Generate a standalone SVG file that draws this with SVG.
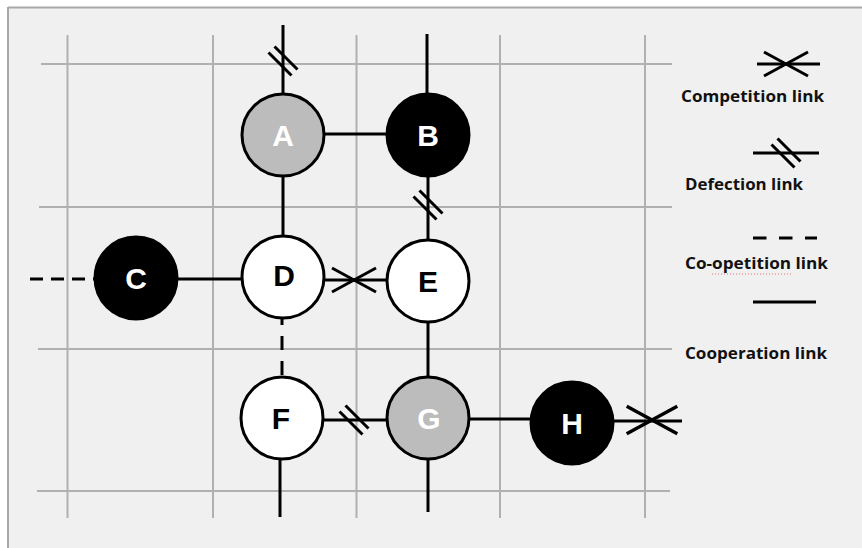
<svg xmlns="http://www.w3.org/2000/svg" xmlns:xlink="http://www.w3.org/1999/xlink" width="862" height="548" viewBox="0 0 862 548">
  <style>
    .grid { stroke: #b0b0b0; stroke-width: 2; fill: none; }
    .link { stroke: #000; stroke-width: 3; fill: none; }
    .dash { stroke: #000; stroke-width: 3; fill: none; stroke-dasharray: 14 11; }
    .node { stroke: #000; stroke-width: 3; }
    .white { fill: #ffffff; }
    .grey { fill: #bcbcbc; }
    .black { fill: #000000; }
    .lbl { font-family: "Liberation Sans", Arial, sans-serif; font-weight: bold; font-size: 30px; text-anchor: middle; }
    .lbl-dark { fill: #000; }
    .lbl-light { fill: #fff; }
    .legend { font-family: "Open Sans", "Liberation Sans", sans-serif; font-weight: bold; font-size: 16.5px; fill: #111; }
  </style>
  <defs>
    <!-- two parallel slashes across a link -->
    <g id="defect" class="link">
      <line x1="-14.5" y1="-8.5" x2="8.5" y2="14.5"/>
      <line x1="-8.5" y1="-14.5" x2="14.5" y2="8.5"/>
    </g>
    <!-- crossed strokes across a link -->
    <g id="compete" class="link">
      <line x1="-22" y1="-12" x2="22" y2="12"/>
      <line x1="-22" y1="12" x2="22" y2="-12"/>
    </g>
  </defs>

  <!-- canvas -->
  <rect x="0" y="0" width="862" height="548" fill="#ffffff"/>
  <rect x="8" y="7" width="854" height="541" fill="#f0f0f0"/>
  <line x1="8" y1="7.5" x2="862" y2="7.5" stroke="#a8a8a8" stroke-width="2"/>
  <line x1="8" y1="7" x2="8" y2="548" stroke="#a8a8a8" stroke-width="2"/>

  <!-- background grid -->
  <g id="grid" class="grid">
    <line x1="41" y1="64" x2="672" y2="64"/>
    <line x1="39" y1="207" x2="672" y2="207"/>
    <line x1="38" y1="349" x2="672" y2="349"/>
    <line x1="37" y1="491" x2="670" y2="491"/>
    <line x1="67.5" y1="35" x2="67.5" y2="518"/>
    <line x1="213" y1="35" x2="213" y2="518"/>
    <line x1="356.5" y1="35" x2="356.5" y2="518"/>
    <line x1="500" y1="35" x2="500" y2="518"/>
    <line x1="645" y1="35" x2="645" y2="518"/>
  </g>

  <!-- links between firms -->
  <g id="connectors">
    <line class="link" x1="283" y1="25" x2="283" y2="95"/>
    <use xlink:href="#defect" href="#defect" transform="translate(283,61)"/>
    <line class="link" x1="427" y1="34" x2="427" y2="95"/>
    <line class="link" x1="320" y1="134" x2="390" y2="134"/>
    <line class="link" x1="283" y1="175" x2="283" y2="238"/>
    <line class="link" x1="428" y1="175" x2="428" y2="242"/>
    <use xlink:href="#defect" href="#defect" transform="translate(428,205)"/>
    <line class="link" x1="30" y1="279" x2="94" y2="279" stroke-dasharray="13 8"/>
    <line class="link" x1="175" y1="279" x2="244" y2="279"/>
    <line class="link" x1="322" y1="280" x2="390" y2="280"/>
    <use xlink:href="#compete" href="#compete" transform="translate(354,280)"/>
    <line class="dash" x1="282" y1="319" x2="282" y2="377" stroke-dashoffset="8"/>
    <line class="link" x1="428" y1="320" x2="428" y2="380"/>
    <line class="link" x1="320" y1="420" x2="390" y2="420"/>
    <use xlink:href="#defect" href="#defect" transform="translate(354,420)"/>
    <line class="link" x1="466" y1="419" x2="534" y2="419"/>
    <line class="link" x1="610" y1="421" x2="682" y2="421"/>
    <use xlink:href="#compete" href="#compete" transform="translate(652,420) scale(1.15)"/>
    <line class="link" x1="280" y1="458" x2="280" y2="517"/>
    <line class="link" x1="428" y1="457" x2="428" y2="512"/>
  </g>

  <!-- firms -->
  <g id="node-A">
    <circle class="node grey" cx="283" cy="135" r="41"/>
    <text class="lbl lbl-light" x="283" y="146">A</text>
  </g>
  <g id="node-B">
    <circle class="node black" cx="428" cy="135" r="41"/>
    <text class="lbl lbl-light" x="428" y="146">B</text>
  </g>
  <g id="node-C">
    <circle class="node black" cx="136" cy="278" r="41"/>
    <text class="lbl lbl-light" x="136" y="289">C</text>
  </g>
  <g id="node-D">
    <circle class="node white" cx="283" cy="277" r="41"/>
    <text class="lbl lbl-dark" x="284" y="286">D</text>
  </g>
  <g id="node-E">
    <circle class="node white" cx="428" cy="281" r="41"/>
    <text class="lbl lbl-dark" x="428" y="292">E</text>
  </g>
  <g id="node-F">
    <circle class="node white" cx="282" cy="418" r="41"/>
    <text class="lbl lbl-dark" x="281" y="429">F</text>
  </g>
  <g id="node-G">
    <circle class="node grey" cx="428" cy="418" r="41"/>
    <text class="lbl lbl-light" x="429" y="429">G</text>
  </g>
  <g id="node-H">
    <circle class="node black" cx="572" cy="423" r="41"/>
    <text class="lbl lbl-light" x="572" y="434">H</text>
  </g>

  <!-- key -->
  <g id="legend">
    <line class="link" x1="757" y1="64" x2="820" y2="64"/>
    <use xlink:href="#compete" href="#compete" transform="translate(786,64)"/>
    <text class="legend" x="681" y="102" textLength="143" lengthAdjust="spacingAndGlyphs">Competition link</text>

    <line class="link" x1="753" y1="153" x2="819" y2="153"/>
    <use xlink:href="#defect" href="#defect" transform="translate(786,153)"/>
    <text class="legend" x="685" y="190" textLength="118" lengthAdjust="spacingAndGlyphs">Defection link</text>

    <line class="link" x1="753" y1="238" x2="817" y2="238" stroke-dasharray="13.5 12.5"/>
    <text class="legend" x="685" y="269" textLength="143" lengthAdjust="spacingAndGlyphs">Co-opetition link</text>
    <line x1="712" y1="274" x2="792" y2="274" stroke="#e07070" stroke-width="1" stroke-dasharray="1 2"/>

    <line class="link" x1="753" y1="302" x2="816" y2="302"/>
    <text class="legend" x="685" y="359" textLength="142" lengthAdjust="spacingAndGlyphs">Cooperation link</text>
  </g>
</svg>
